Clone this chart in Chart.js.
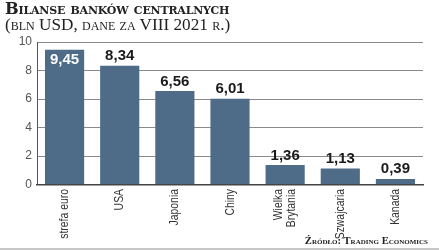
<!DOCTYPE html>
<html><head><meta charset="utf-8">
<script src="https://cdn.jsdelivr.net/npm/chart.js@4"></script>
<style>
html,body{margin:0;padding:0;background:#fff;}
#wrap{position:relative;width:439px;height:251px;overflow:hidden;}
#c{position:absolute;left:0;top:0;}
.t1{position:absolute;left:5px;top:-1px;font-family:'DejaVu Serif','Liberation Serif',serif;font-weight:bold;font-variant:small-caps;font-size:16.2px;color:#222;white-space:nowrap;letter-spacing:-0.2px;}
.t2{position:absolute;left:5px;top:15px;font-family:'Liberation Serif','DejaVu Serif',serif;font-variant:small-caps;font-size:17.2px;color:#222;white-space:nowrap;}
.src{position:absolute;right:11px;top:235px;font-family:'Liberation Serif','DejaVu Serif',serif;font-weight:bold;font-variant:small-caps;font-size:10.6px;color:#222;white-space:nowrap;}
.bl{position:absolute;left:0;top:248px;width:439px;height:2px;background:#c8c8c8;}
</style></head>
<body><div id="wrap">
<canvas id="c" width="439" height="251"></canvas>
<div class="t1">Bilanse banków centralnych</div>
<div class="t2">(bln USD, dane za VIII 2021 r.)</div>
<div class="src">Źródło: Trading Economics</div>
<div class="bl"></div>
</div>
<script>
const categories = ['strefa euro', 'USA', 'Japonia', 'Chiny', ['Wielka', 'Brytania'], 'Szwajcaria', 'Kanada'];
const values = [9.45, 8.34, 6.56, 6.01, 1.36, 1.13, 0.39];
const valueLabels = ['9,45', '8,34', '6,56', '6,01', '1,36', '1,13', '0,39'];
const yTicks = [0, 2, 4, 6, 8, 10];

const SANS = "'Liberation Sans', Arial, sans-serif";

const labelPlugin = {
  id: 'valLabels',
  afterDatasetsDraw(chart) {
    const ctx = chart.ctx;
    const meta = chart.getDatasetMeta(0);
    ctx.save();
    ctx.font = 'bold 15px ' + SANS;
    ctx.textAlign = 'center';
    meta.data.forEach((bar, i) => {
      if (i === 0) {
        ctx.fillStyle = '#ffffff';
        ctx.textBaseline = 'top';
        ctx.fillText(valueLabels[i], bar.x, bar.y + 3);
      } else {
        ctx.fillStyle = '#1a1a1a';
        ctx.textBaseline = 'alphabetic';
        ctx.fillText(valueLabels[i], bar.x, bar.y - 5.5);
      }
    });
    ctx.restore();
  },
  afterDraw(chart) {
    // category labels, rotated and condensed, placed at the x scale's tick positions
    const ctx = chart.ctx;
    const xs = chart.scales.x;
    ctx.save();
    ctx.font = '13px ' + SANS;
    ctx.fillStyle = '#333';
    ctx.textAlign = 'right';
    ctx.textBaseline = 'middle';
    categories.forEach((lab, i) => {
      const lines = Array.isArray(lab) ? lab : [lab];
      const x = xs.getPixelForTick(i);
      const y = xs.top + 4.5;
      ctx.save();
      ctx.translate(x, y);
      ctx.rotate(-Math.PI / 2);
      ctx.scale(0.8, 1);
      const lh = 12.5;
      lines.forEach((ln, j) => {
        const off = (j - (lines.length - 1) / 2) * lh;
        ctx.fillText(ln, 0, off);
      });
      ctx.restore();
    });
    ctx.restore();
  }
};

new Chart(document.getElementById('c'), {
  type: 'bar',
  data: {
    labels: categories,
    datasets: [{
      data: values,
      backgroundColor: '#4e6b88',
      borderWidth: 0,
      barPercentage: 0.71,
      categoryPercentage: 1.0
    }]
  },
  options: {
    responsive: false,
    animation: false,
    devicePixelRatio: 1,
    layout: { padding: { top: 42, right: 16, left: 0, bottom: 0 } },
    plugins: { legend: { display: false }, tooltip: { enabled: false }, title: { display: false } },
    scales: {
      y: {
        min: 0, max: 10,
        afterFit(s) { s.width = 37; },
        afterBuildTicks(s) { s.ticks = yTicks.map(v => ({ value: v })); },
        grid: { color: '#8a8a8a', lineWidth: 1, drawTicks: false },
        border: { display: true, color: '#555', width: 1 },
        ticks: { padding: 5, color: '#555', font: { family: SANS, size: 12 } }
      },
      x: {
        afterFit(s) { s.height = 66.5; },
        grid: { display: false, drawTicks: false },
        border: { display: true, color: '#444', width: 1.5 },
        ticks: { display: false }
      }
    }
  },
  plugins: [labelPlugin]
});
</script>
</body></html>
